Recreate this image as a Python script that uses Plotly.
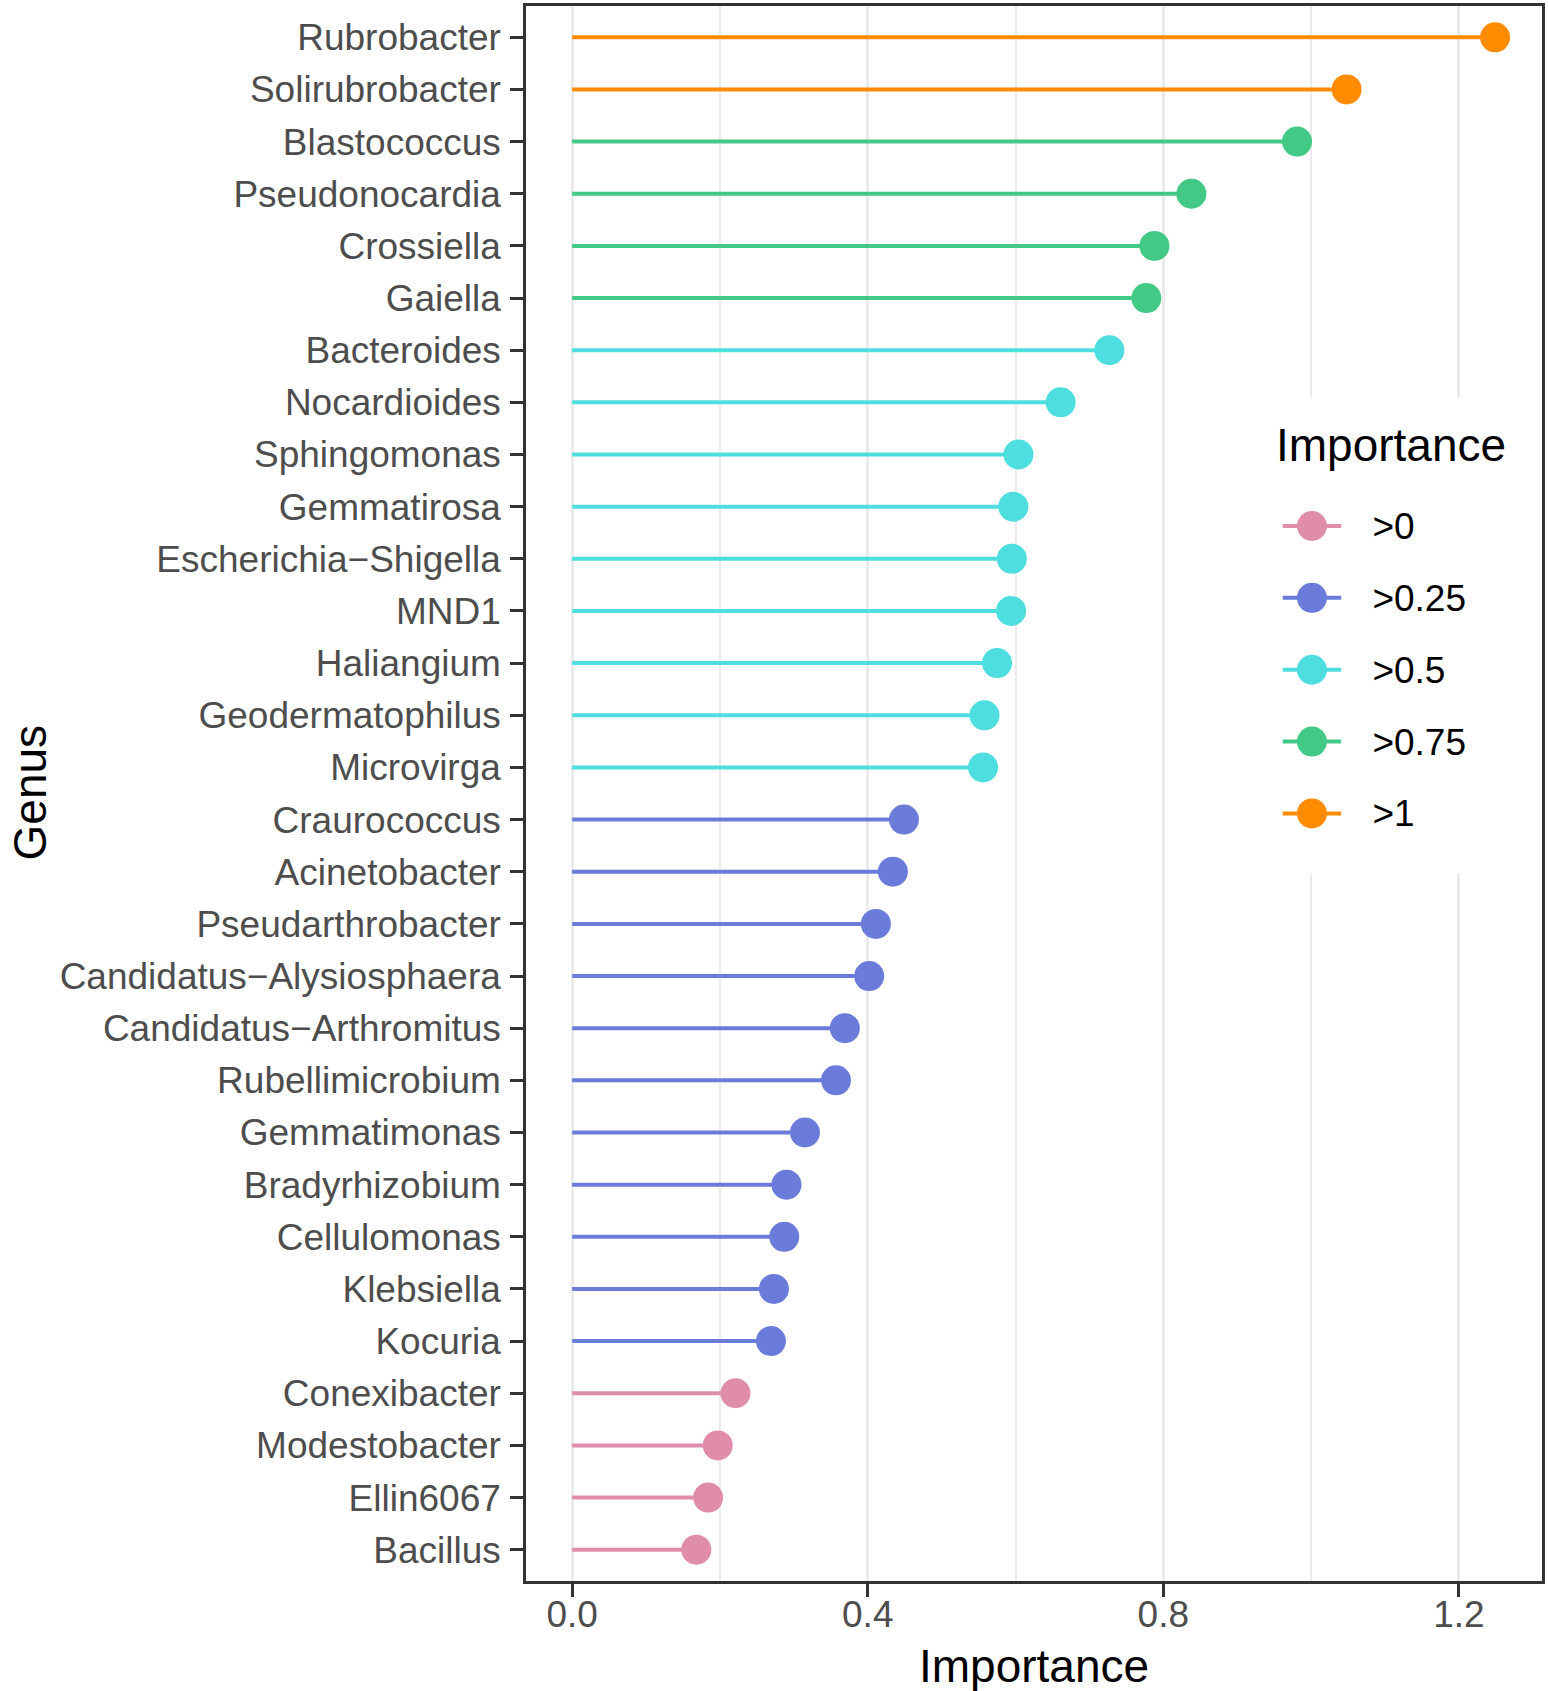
import plotly.graph_objects as go

# ---------------- data ----------------
genus = [
    "Rubrobacter", "Solirubrobacter", "Blastococcus", "Pseudonocardia", "Crossiella",
    "Gaiella", "Bacteroides", "Nocardioides", "Sphingomonas", "Gemmatirosa",
    "Escherichia\u2212Shigella", "MND1", "Haliangium", "Geodermatophilus", "Microvirga",
    "Craurococcus", "Acinetobacter", "Pseudarthrobacter", "Candidatus\u2212Alysiosphaera",
    "Candidatus\u2212Arthromitus", "Rubellimicrobium", "Gemmatimonas", "Bradyrhizobium",
    "Cellulomonas", "Klebsiella", "Kocuria", "Conexibacter", "Modestobacter",
    "Ellin6067", "Bacillus",
]
importance = [
    1.249, 1.048, 0.981, 0.838, 0.788,
    0.777, 0.727, 0.661, 0.604, 0.597,
    0.595, 0.594, 0.575, 0.558, 0.556,
    0.449, 0.434, 0.411, 0.402,
    0.369, 0.357, 0.315, 0.290,
    0.287, 0.273, 0.269, 0.221, 0.197,
    0.184, 0.168,
]
levels = [">0", ">0.25", ">0.5", ">0.75", ">1"]
thresholds = [0, 0.25, 0.5, 0.75, 1]
level_colors = ["#E08DAC", "#6A7BDA", "#4EDEE0", "#42C986", "#FF8C00"]
x_tickvals = [0, 0.4, 0.8, 1.2]
x_ticktext = ["0.0", "0.4", "0.8", "1.2"]
x_minor_vals = [0.2, 0.6, 1.0]

# ---------------- style ----------------
FONT = "Liberation Sans, Arial, Helvetica, sans-serif"
SMALL = 37
BIG = 46
DARK = "#333333"
TXT = "#4D4D4D"
GRID = "#EBEBEB"
SEG_W = 4
PT_SIZE = 30


def level_of(v):
    idx = 0
    for i, t in enumerate(thresholds):
        if v > t:
            idx = i
    return idx


groups = [level_of(v) for v in importance]

fig = go.Figure()

# segments (drawn first, like geom_segment)
for li, lvl in enumerate(levels):
    xs, ys = [], []
    for g, v, gi in zip(genus, importance, groups):
        if gi == li:
            xs += [0, v, None]
            ys += [g, g, None]
    if xs:
        fig.add_trace(go.Scatter(
            x=xs, y=ys, mode="lines", xaxis="x", yaxis="y",
            line=dict(color=level_colors[li], width=SEG_W),
            showlegend=False, hoverinfo="skip",
        ))

# points
for li, lvl in enumerate(levels):
    xs = [v for v, gi in zip(importance, groups) if gi == li]
    ys = [g for g, gi in zip(genus, groups) if gi == li]
    if xs:
        fig.add_trace(go.Scatter(
            x=xs, y=ys, mode="markers", xaxis="x", yaxis="y", name=lvl,
            marker=dict(color=level_colors[li], size=PT_SIZE, line=dict(width=0)),
            showlegend=False,
        ))

# custom legend keys on their own small axes
for li, lvl in enumerate(levels):
    fig.add_trace(go.Scatter(
        x=[0, 1], y=[lvl, lvl], mode="lines", xaxis="x2", yaxis="y2",
        line=dict(color=level_colors[li], width=SEG_W),
        showlegend=False, hoverinfo="skip", cliponaxis=False,
    ))
fig.add_trace(go.Scatter(
    x=[0.5] * len(levels), y=levels, mode="markers", xaxis="x2", yaxis="y2",
    marker=dict(color=level_colors, size=PT_SIZE, line=dict(width=0)),
    showlegend=False, hoverinfo="skip", cliponaxis=False,
))

W, H = 1548, 1691
ML, MR, MT, MB = 526, 4, 3, 110
PW, PH = W - ML - MR, H - MT - MB


def px_x(p):
    return (p - ML) / PW


def px_y(p):
    return (H - MB - p) / PH


fig.update_layout(
    width=W, height=H,
    margin=dict(l=ML, r=MR, t=MT, b=MB, pad=0),
    paper_bgcolor="white", plot_bgcolor="white",
    font=dict(family=FONT, size=SMALL, color="black"),
    showlegend=False,
    xaxis=dict(
        domain=[0, 1], anchor="y",
        range=[-0.0625, 1.3125],
        tickmode="array", tickvals=x_tickvals, ticktext=x_ticktext,
        ticks="outside", ticklen=13, tickwidth=3, tickcolor=DARK,
        tickfont=dict(size=SMALL, color=TXT, family=FONT),
        ticklabelstandoff=-14,
        showline=True, mirror=True, linecolor=DARK, linewidth=2.5,
        showgrid=True, gridcolor=GRID, gridwidth=3,
        minor=dict(tickmode="array", tickvals=x_minor_vals, showgrid=True,
                   gridcolor=GRID, gridwidth=1.5, ticks=""),
        zeroline=False,
    ),
    yaxis=dict(
        domain=[0, 1], anchor="x",
        type="category", categoryorder="array", categoryarray=genus,
        range=[len(genus) - 0.4, -0.6],
        ticks="outside", ticklen=13, tickwidth=3, tickcolor=DARK,
        tickfont=dict(size=SMALL, color=TXT, family=FONT),
        ticklabelstandoff=2,
        showline=True, mirror=True, linecolor=DARK, linewidth=2.5,
        showgrid=False, zeroline=False,
    ),
    xaxis2=dict(
        domain=[px_x(1284), px_x(1343)], anchor="y2",
        range=[0, 1], visible=False, fixedrange=True,
    ),
    yaxis2=dict(
        domain=[px_y(848), px_y(488)], anchor="x2",
        type="category", categoryorder="array", categoryarray=levels,
        range=[len(levels) - 0.5, -0.5], side="right",
        showgrid=False, zeroline=False, showline=False, ticks="",
        tickfont=dict(size=SMALL, color="black", family=FONT),
        ticklabelstandoff=30, fixedrange=True,
    ),
    shapes=[dict(
        type="rect", xref="x", yref="y", layer="between",
        x0=0.93, x1=1.305, y0=6.9, y1=16.03,
        fillcolor="white", line=dict(width=0),
    )],
    annotations=[
        dict(text="Importance", xref="paper", yref="paper",
             x=px_x(1275), y=px_y(443), xanchor="left", yanchor="middle",
             showarrow=False, font=dict(size=BIG, color="black", family=FONT)),
        dict(text="Genus", xref="paper", yref="paper",
             x=px_x(29), y=px_y(791), xanchor="center", yanchor="middle",
             textangle=-90, showarrow=False, borderpad=0,
             font=dict(size=BIG, color="black", family=FONT)),
        dict(text="Importance", xref="paper", yref="paper",
             x=px_x(1035), y=px_y(1666), xanchor="center", yanchor="middle",
             showarrow=False, font=dict(size=BIG, color="black", family=FONT)),
    ],
)

fig.write_html(
    "out.html",
    config={"displayModeBar": False},
    post_script="document.body.style.margin='0px';document.body.style.padding='0px';",
)
